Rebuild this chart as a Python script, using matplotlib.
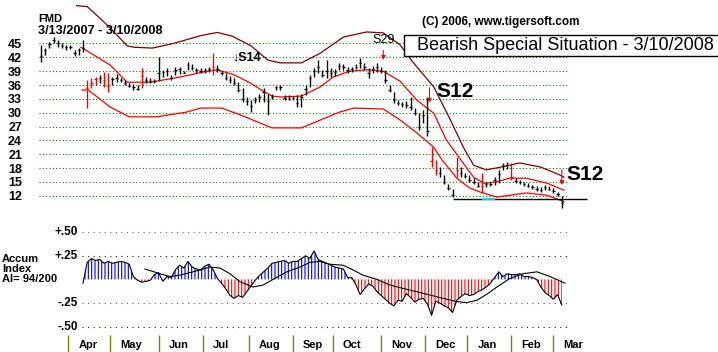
import numpy as np
import matplotlib
matplotlib.use('Agg')
import matplotlib.pyplot as plt
from matplotlib.patches import Rectangle

plt.rcParams['font.family'] = ['Liberation Sans', 'DejaVu Sans']
plt.rcParams['hatch.linewidth'] = 0.8

# ---------------- data ----------------
ticker = 'FMD'
date_range = '3/13/2007 - 3/10/2008'

bar_days = list(range(0, 250, 2))
highs = [44.7, 44.0, 45.3, 46.4, 45.8, 45.1, 44.7, 44.6, 43.6, 44.0,
         45.8, 37.0, 37.5, 37.8, 38.2, 38.8, 38.5, 37.8, 38.3, 37.6,
         37.0, 36.5, 36.2, 36.0, 39.6, 37.8, 37.5, 37.2, 42.1, 39.3,
         39.6, 38.2, 39.9, 39.8, 39.0, 41.0, 40.6, 39.7, 39.6, 39.7,
         39.8, 42.9, 40.3, 39.0, 38.6, 38.0, 37.5, 36.7, 35.3, 33.4,
         32.7, 33.4, 34.0, 35.3, 34.0, 34.0, 35.8, 36.0, 33.8, 33.8,
         33.6, 33.8, 34.0, 36.0, 38.2, 39.7, 41.4, 39.3, 41.4, 39.7,
         39.5, 40.8, 40.5, 39.9, 39.8, 40.5, 41.9, 40.8, 39.7, 40.2,
         40.8, 40.0, 39.3, 36.0, 34.5, 32.7, 32.3, 32.5, 33.4, 31.0,
         29.9, 30.6, 33.4, 22.6, 19.7, 18.2, 16.5, 14.5, 13.5, 20.4,
         18.2, 17.0, 16.5, 15.8, 15.0, 16.9, 15.0, 15.0, 16.0, 17.5,
         19.1, 19.3, 19.1, 15.8, 15.5, 15.0, 14.8, 14.3, 14.0, 13.8,
         14.3, 14.0, 13.7, 12.8, 12.0]
lows = [41.0, 42.5, 44.0, 45.1, 44.3, 44.0, 43.6, 43.7, 42.3, 42.5,
        43.2, 31.0, 35.3, 36.0, 36.5, 35.5, 34.5, 36.0, 36.7, 36.6,
        36.0, 35.5, 35.0, 34.9, 35.4, 36.5, 36.5, 36.4, 36.8, 37.8,
        38.0, 37.1, 38.2, 38.3, 38.5, 39.3, 39.3, 38.7, 38.6, 38.7,
        38.8, 38.2, 38.8, 38.2, 37.0, 36.5, 36.0, 34.5, 32.3, 31.7,
        30.1, 32.0, 32.3, 32.3, 29.5, 33.0, 34.9, 35.0, 32.7, 32.7,
        32.8, 31.2, 31.2, 33.8, 35.6, 37.7, 38.6, 37.7, 37.5, 37.7,
        38.0, 39.3, 39.3, 38.6, 38.8, 39.5, 39.7, 39.3, 37.5, 38.6,
        38.8, 38.6, 36.5, 34.5, 32.1, 31.7, 31.2, 31.0, 30.6, 29.5,
        26.2, 27.7, 25.0, 18.3, 16.5, 16.0, 14.5, 13.2, 11.7, 16.0,
        16.0, 15.8, 15.0, 14.5, 13.9, 12.6, 13.9, 14.0, 14.3, 14.8,
        17.6, 17.8, 15.4, 14.7, 14.6, 14.0, 13.9, 13.5, 13.0, 12.8,
        13.2, 13.2, 12.5, 12.0, 9.3]
closes = [42.3, 43.6, 44.8, 45.8, 45.2, 44.5, 44.2, 44.3, 43.0, 43.5,
          44.0, 35.3, 36.5, 37.2, 37.5, 37.0, 35.8, 37.2, 37.5, 37.0,
          36.4, 35.8, 35.5, 35.2, 38.0, 37.0, 36.8, 36.8, 38.5, 38.8,
          39.0, 37.5, 39.2, 39.5, 38.7, 40.3, 39.6, 39.2, 39.0, 39.2,
          39.4, 39.8, 39.5, 38.5, 37.5, 37.0, 36.5, 35.0, 33.0, 32.5,
          31.5, 32.8, 33.5, 34.5, 32.5, 33.5, 35.5, 35.5, 33.2, 33.0,
          33.2, 32.0, 33.5, 35.2, 37.5, 39.0, 40.0, 38.2, 39.0, 38.5,
          38.8, 40.2, 39.8, 39.2, 39.4, 40.0, 40.8, 40.0, 38.5, 39.5,
          40.0, 39.0, 37.0, 35.0, 32.8, 32.2, 31.8, 31.6, 31.2, 30.0,
          27.0, 29.5, 26.0, 19.5, 17.5, 17.0, 15.0, 13.6, 12.2, 17.5,
          17.0, 16.3, 15.5, 15.0, 14.2, 14.0, 14.5, 14.6, 15.5, 16.8,
          18.5, 18.6, 16.0, 15.2, 15.0, 14.5, 14.2, 13.8, 13.4, 13.2,
          13.8, 13.5, 13.0, 12.3, 10.5]
red_bars = [11, 12, 13, 15, 16, 24, 41, 93, 94, 99, 105, 112]

upper_days = [17, 22, 28, 34, 41, 44, 53, 63, 76, 84, 91, 100, 108, 114, 124,
              133, 144, 155, 163, 171, 177, 187, 195, 201, 206, 212, 219, 228,
              238, 247, 249]
upper_vals = [53.2, 53.0, 50.5, 47.9, 44.5, 44.2, 44.0, 45.0, 46.7, 47.4, 46.6,
              44.5, 41.4, 40.8, 40.8, 42.9, 46.4, 47.5, 47.3, 44.7, 41.0, 35.6,
              28.4, 22.6, 18.6, 17.6, 18.2, 19.1, 18.2, 16.5, 16.0]
ma_days = [19, 33, 41, 52, 66, 77, 84, 92, 99, 105, 110, 114, 124, 133, 139,
           147, 155, 163, 171, 179, 187, 193, 200, 206, 211, 217, 223, 231,
           241, 249]
ma_vals = [44.2, 40.3, 36.6, 36.6, 37.7, 38.8, 39.3, 38.2, 36.6, 34.9, 33.6,
           33.4, 33.6, 35.6, 37.7, 39.0, 39.3, 39.0, 36.8, 32.7, 29.9, 24.1,
           19.7, 16.0, 14.7, 15.0, 15.8, 15.8, 14.7, 13.2]
lower_days = [19.5, 22.5, 33, 42, 55, 69, 76, 86, 95, 103, 110, 124, 133, 142,
              149, 163, 171, 179, 187, 191, 198, 204, 209, 217, 231, 241, 249]
lower_vals = [34.9, 34.9, 31.2, 29.1, 29.1, 30.1, 31.0, 31.0, 29.5, 28.0, 26.7,
              26.7, 28.4, 30.1, 31.0, 30.8, 28.4, 25.6, 22.5, 19.7, 15.8, 13.7,
              12.8, 11.7, 12.6, 12.1, 10.7]

ai_days = list(range(20, 250, 2))
ai_vals = [-0.04, 0.18, 0.22, 0.20, 0.21, 0.17, 0.19, 0.17, 0.18, 0.19,
           0.18, 0.16, 0.03, -0.01, -0.03, -0.02, -0.01, 0.05, 0.07, -0.02,
           0.03, 0.02, 0.10, 0.15, 0.12, 0.19, 0.13, 0.11, 0.10, 0.14,
           0.16, 0.10, 0.01, -0.04, -0.10, -0.17, -0.20, -0.17, -0.19, -0.13,
           -0.07, -0.01, 0.04, 0.08, 0.12, 0.17, 0.18, 0.19, 0.20, 0.17,
           0.19, 0.19, 0.22, 0.25, 0.22, 0.30, 0.21, 0.19, 0.17, 0.15,
           0.13, 0.12, 0.11, 0.02, 0.02, -0.06, -0.16, -0.10, -0.05, -0.07,
           -0.13, -0.17, -0.21, -0.25, -0.28, -0.22, -0.23, -0.15, -0.19, -0.24,
           -0.21, -0.20, -0.26, -0.38, -0.23, -0.25, -0.28, -0.30, -0.35, -0.22,
           -0.18, -0.15, -0.17, -0.16, -0.13, -0.11, -0.08, -0.04, 0.02, 0.08,
           0.03, 0.06, 0.05, 0.05, 0.06, 0.03, 0.03, 0.02, 0.00, -0.08,
           -0.14, -0.17, -0.21, -0.16, -0.27]
ai_ma_days = [49.5, 56.7, 61.4, 66.2, 72.4, 80.5, 85.2, 90, 94.8, 101, 105.7,
              110.5, 117.1, 123.3, 128.1, 132.9, 137.6, 143.8, 148.6, 153.3, 160,
              166.2, 172.4, 179, 185.2, 191.4, 198.1, 202.9, 207.6, 212.4, 217.1,
              223.3, 229.5, 236.2, 242.4, 249.5]
ai_ma_vals = [0.11, 0.06, 0.03, 0.045, 0.08, 0.13, 0.12, 0.06, -0.025, -0.08,
              -0.06, 0.0, 0.08, 0.13, 0.18, 0.19, 0.16, 0.15, 0.10, 0.045, 0.0,
              -0.06, -0.095, -0.13, -0.165, -0.20, -0.235, -0.245, -0.22, -0.155,
              -0.08, 0.01, 0.06, 0.08, 0.03, -0.04]

price_ticks = [45, 42, 39, 36, 33, 30, 27, 24, 21, 18, 15, 12]
ai_ticks = [0.50, 0.25, -0.25, -0.50]
ai_tick_labels = ['+.50', '+.25', '-.25', '-.50']
months = ['Apr', 'May', 'Jun', 'Jul', 'Aug', 'Sep', 'Oct', 'Nov', 'Dec',
          'Jan', 'Feb', 'Mar']
month_starts = [13, 33, 56, 77, 99, 120, 139, 162, 183, 203, 224, 244]

signal_names = ['S29', 'S12', 'S12']
signal_days = [163, 185, 248]
signal_tips = [41.4, 32.1, 14.3]
s14_day, s14_price = 91, 42.1
support_level = 11.3
support_span = (196, 260)
cyan_span = (210, 216)
ai_label = ['Accum', 'Index', 'AI= 94/200']
copyright_txt = '(C) 2006, www.tigersoft.com'
title_box = 'Bearish Special Situation - 3/10/2008'

# ---------------- layout helpers ----------------
W, H = 718, 352
def fx(px):
    return px / W
def fy(py):
    return 1 - py / H

XL = (-2.381, 266.19)

fig = plt.figure(figsize=(W / 100, H / 100), dpi=100)
fig.patch.set_facecolor('white')

# ---------------- price panel ----------------
ax = fig.add_axes([fx(36), fy(210), fx(600) - fx(36), 210 / H])
ax.set_xlim(*XL)
ax.set_ylim(8.90, 54.43)
for s in ax.spines.values():
    s.set_visible(False)
ax.set_xticks([])
ax.set_yticks(price_ticks)
ax.set_yticklabels([str(t) for t in price_ticks], fontsize=9, fontweight='bold')
ax.tick_params(axis='y', length=0, pad=10)
ax.set_facecolor('none')

ax.hlines(price_ticks, -1, 250.5, colors='#008000', linestyles=(0, (1, 2)), lw=0.8, zorder=1)

d = np.array(bar_days, dtype=float)
hi = np.array(highs); lo = np.array(lows); cl = np.array(closes)
cols = ['red' if i in red_bars else 'black' for i in range(len(d))]
ax.vlines(d, lo, hi, colors=cols, lw=1.0, zorder=3)
ax.hlines(cl, d - 0.6, d + 0.6, colors=cols, lw=0.9, zorder=3)

ax.plot(upper_days, upper_vals, color='#800000', lw=0.9, zorder=2)
ax.plot(ma_days, ma_vals, color='#ff0000', lw=0.9, zorder=2)
ax.plot(lower_days, lower_vals, color='#ff0000', lw=0.9, zorder=2)

ax.hlines(support_level, *support_span, colors='black', lw=1.0, zorder=2)
ax.hlines(support_level, *cyan_span, colors='#00e5ee', lw=1.3, zorder=2)

# signals
arrow_len = [7, 11, 11]
txt_off = [(0, 10), (5, 8), (3.5, 7.5)]
txt_ha = ['center', 'left', 'left']
txt_size = [9, 15, 15]
txt_weight = ['normal', 'bold', 'bold']
for nm, sd, st, al, off, ha, fs, fw in zip(signal_names, signal_days, signal_tips,
                                          arrow_len, txt_off, txt_ha, txt_size, txt_weight):
    ax.annotate('', xy=(sd, st), xytext=(0, al), textcoords='offset points',
                arrowprops=dict(arrowstyle='-|>', color='red', lw=0.8,
                                mutation_scale=6, shrinkA=0, shrinkB=0))
    ax.annotate(nm, xy=(sd, st), xytext=off, textcoords='offset points',
                ha=ha, va='center' if ha == 'left' else 'bottom',
                fontsize=fs, fontweight=fw, color='black')
ax.text(s14_day, s14_price, '\u2193S14', fontsize=9, fontweight='bold',
        ha='left', va='center', color='black')

# ---------------- texts ----------------
fig.text(fx(38), fy(19), ticker, fontsize=8, fontweight='bold', ha='left', va='center')
fig.text(fx(38), fy(31), date_range, fontsize=9.2, fontweight='bold', ha='left', va='center')
fig.text(fx(422), fy(22), copyright_txt, fontsize=8.5, fontweight='bold', ha='left', va='center')
fig.patches.append(Rectangle((fx(404), fy(56)), fx(330), 21 / H, transform=fig.transFigure,
                             facecolor='white', edgecolor='black', lw=1.0, zorder=5))
fig.text(fx(417), fy(46), title_box, fontsize=13, ha='left', va='center', zorder=6)
for i, line in enumerate(ai_label):
    fig.text(fx(2), fy(259 + 10 * i), line, fontsize=8, fontweight='bold', ha='left', va='center')

# ---------------- accumulation index panel ----------------
ax2 = fig.add_axes([fx(36), fy(335), fx(600) - fx(36), 113 / H])
ax2.set_xlim(*XL)
ax2.set_ylim(-0.587, 0.606)
ax2.axis('off')
grid_cols = ['#666666', '#222222', '#c0306a', '#222222']
for t, c in zip(ai_ticks, grid_cols):
    ax2.hlines(t, 19.5, 250.5, colors=c, linestyles=(0, (1, 4)), lw=0.8)
ax2_tr = ax2.get_yaxis_transform()
for t, lab in zip(ai_ticks, ai_tick_labels):
    ax2.text((78 - 36) / 564, t, lab, transform=ax2_tr, ha='right', va='center',
             fontsize=8.5, fontweight='bold')

ad = np.array(ai_days, dtype=float); av = np.array(ai_vals)
ax2.fill_between(ad, 0, av, where=av >= 0, interpolate=True, facecolor='none',
                 edgecolor='#0000ff', hatch='|||||', lw=0)
ax2.fill_between(ad, 0, av, where=av <= 0, interpolate=True, facecolor='none',
                 edgecolor='#ff0000', hatch='|||||', lw=0)
ax2.plot(ad, av, color='black', lw=0.8)
ax2.plot(ai_ma_days, ai_ma_vals, color='black', lw=0.8)

# ---------------- month strip ----------------
ax3 = fig.add_axes([fx(36), 0, fx(600) - fx(36), 17 / H])
ax3.set_xlim(*XL)
ax3.set_ylim(0, 1)
ax3.axis('off')
ax3.vlines(month_starts, 0, 1, colors='#808000', lw=1)
for m, s in zip(months, month_starts):
    ax3.text(s + 4.8, 0.42, m, ha='left', va='center', fontsize=8, fontweight='bold')

fig.savefig('out.png', dpi=100)
